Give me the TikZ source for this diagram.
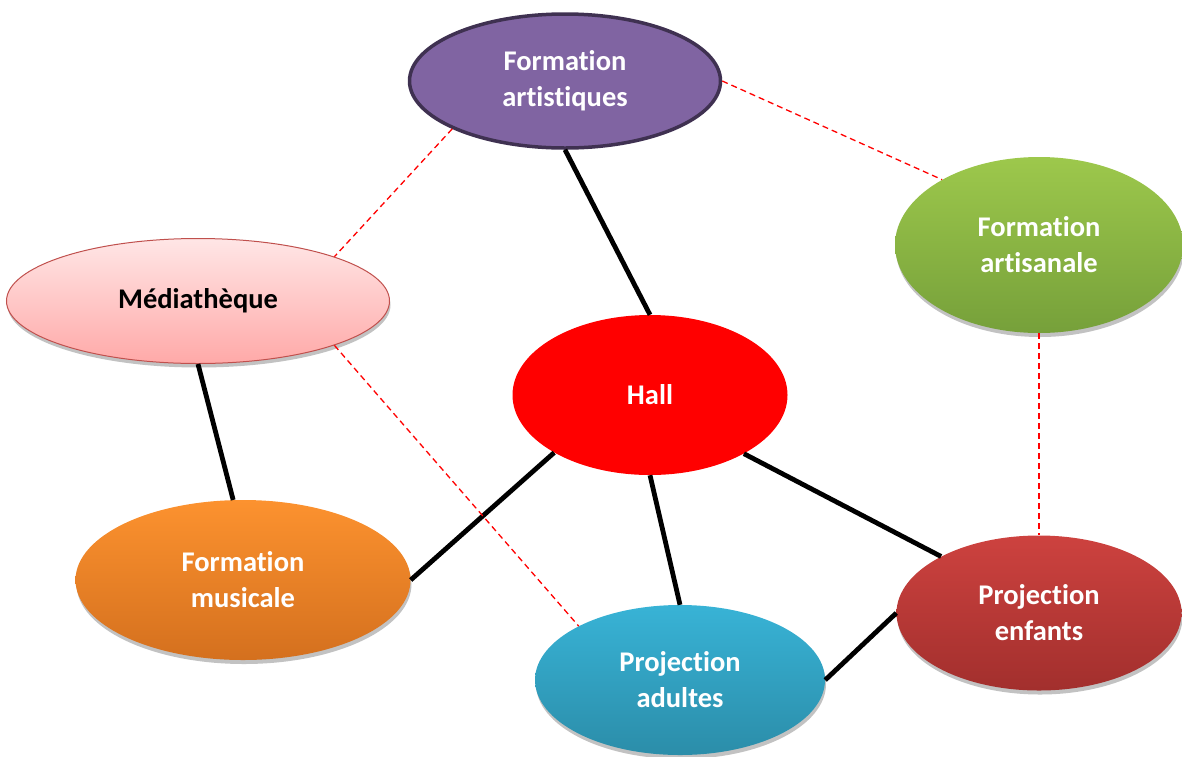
\documentclass[tikz,border=0pt]{standalone}
\usepackage{fontspec}
\setmainfont{Carlito}[Ligatures=NoCommon]
\usetikzlibrary{shapes.geometric,shadows}
\definecolor{artPurple}{HTML}{8064A2}
\definecolor{artEdge}{HTML}{3F3151}
\definecolor{medTop}{HTML}{FFE6E6}
\definecolor{medBot}{HTML}{FFA9A8}
\definecolor{medEdge}{HTML}{C0504D}
\definecolor{craftTop}{HTML}{9DC84C}
\definecolor{craftBot}{HTML}{76A03A}
\definecolor{musTop}{HTML}{FC922F}
\definecolor{musBot}{HTML}{D4701E}
\definecolor{adTop}{HTML}{38B3D6}
\definecolor{adBot}{HTML}{2B8DA9}
\definecolor{kidTop}{HTML}{CD423F}
\definecolor{kidBot}{HTML}{A22F2D}

\begin{document}
\begin{tikzpicture}[
  x=1pt, y=-1pt,
  font=\fontsize{28.5}{36}\selectfont\bfseries,
  bub/.style={ellipse, inner sep=0pt, align=center, text=white},
  shd/.style={drop shadow={shadow xshift=1pt, shadow yshift=-4pt,
      fill=black!40, opacity=0.6}},
  link/.style={line width=4.8pt},
  soft/.style={red, line width=1.3pt, dash pattern=on 6pt off 4pt},
]
\useasboundingbox (0,0) rectangle (1182,756);

% ---------------- rooms ----------------
\node[bub, fill=artPurple, draw=artEdge, line width=3.5pt,
      minimum width=311, minimum height=134] (artist) at (565,81)
  {Formation\\artistiques};

\node[bub, shd, top color=medTop, bottom color=medBot, draw=medEdge,
      line width=1pt, text=black,
      minimum width=383, minimum height=125] (media) at (198,301)
  {Médiathèque};

\node[bub, shd, top color=craftTop, bottom color=craftBot,
      minimum width=288, minimum height=176] (craft) at (1039,245)
  {Formation\\artisanale};

\node[bub, fill=red, minimum width=275, minimum height=160] (hall) at (650,395)
  {Hall};

\node[bub, shd, top color=musTop, bottom color=musBot,
      minimum width=335, minimum height=160] (music) at (243,580)
  {Formation\\musicale};

\node[bub, shd, top color=adTop, bottom color=adBot,
      minimum width=290, minimum height=150] (adults) at (680,680)
  {Projection\\adultes};

\node[bub, shd, top color=kidTop, bottom color=kidBot,
      minimum width=285, minimum height=155] (kids) at (1039,613)
  {Projection\\enfants};

% ---------------- direct links ----------------
\draw[link] (artist.south) -- (hall.north);
\draw[link] (media.south)  -- (music.97);
\draw[link] (hall.211)     -- (music.east);
\draw[link] (hall.south)   -- (adults.north);
\draw[link] (hall.328)     -- (kids.150);
\draw[link] (adults.east)  -- (kids.west);

% ---------------- secondary links ----------------
\draw[soft] (artist.203) -- (media.18);
\draw[soft] (artist.east) -- (craft.146);
\draw[soft] (media.342)  -- (adults.152);
\draw[soft] (craft.south) -- (kids.north);

\end{tikzpicture}
\end{document}
